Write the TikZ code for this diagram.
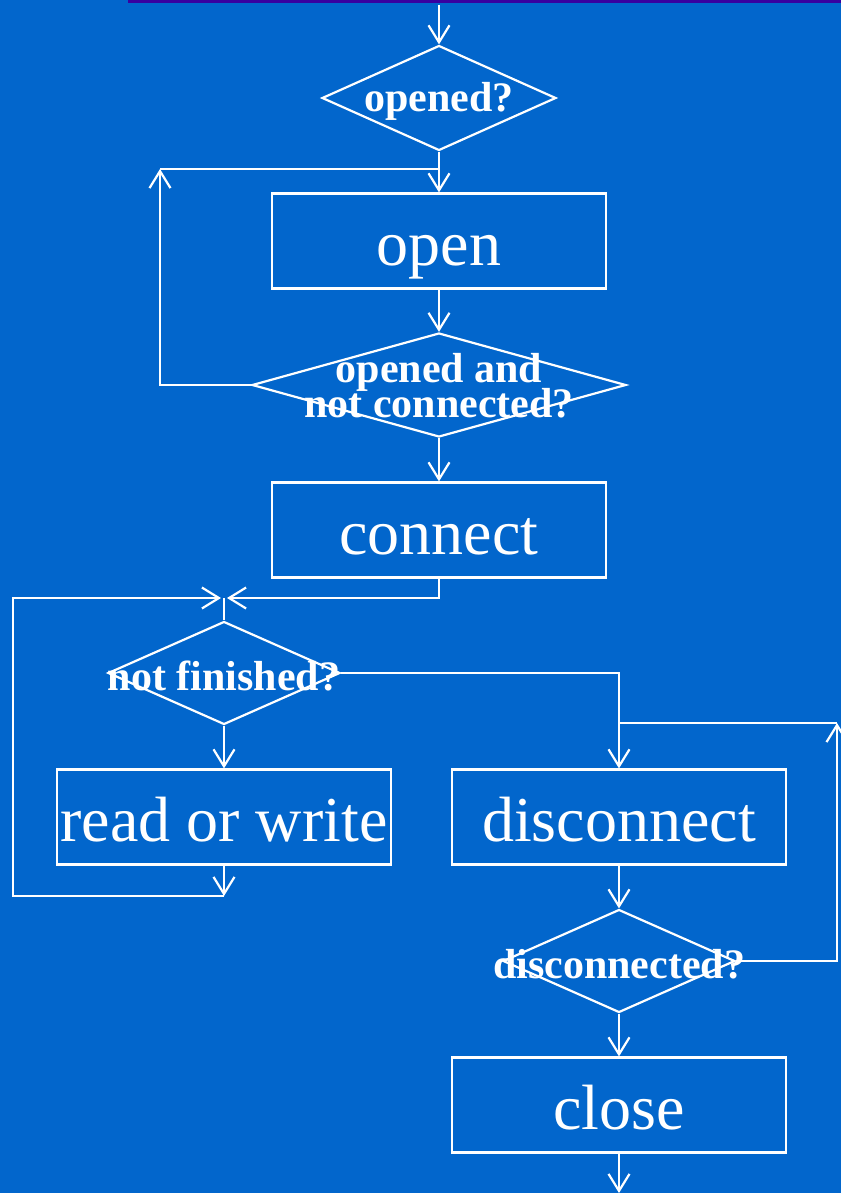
\documentclass[tikz,border=0pt]{standalone}
\usepackage{fontspec}
\setmainfont{Liberation Serif}
\definecolor{myBackBlue}{RGB}{2,102,204}
\definecolor{myBarPurple}{RGB}{56,0,160}
\usetikzlibrary{arrows.meta, shapes.geometric, calc}

\begin{document}
\begin{tikzpicture}[x=1pt, y=-1pt,
  >={Straight Barb[length=17pt, width=21pt]},
  proc/.style={draw=white, line width=2.2pt, rectangle, minimum width=334pt,
               minimum height=95pt, inner sep=0pt, text=white,
               text height=49pt, text depth=0pt,
               font=\fontsize{64}{70}\selectfont},
  test/.style={draw=white, line width=2.2pt, diamond, inner sep=0pt},
  testtext/.style={text=white, align=center, inner sep=0pt, yshift=-3pt,
                   font=\fontsize{42}{36}\selectfont\bfseries},
  edge/.style={->, line width=2.2pt, white},
  link/.style={line width=2.2pt, white}]
  \useasboundingbox (0,0) rectangle (841,1193);
  \fill[myBackBlue] (0,0) rectangle (841,1193);
  \fill[myBarPurple] (128,0) rectangle (841,3);
  % main column
  \coordinate (top) at (439,5);
  \node[test, minimum width=234pt, minimum height=105pt,
        label={[testtext]center:opened?}] (q1) at (439,98) {};
  \node[proc] (open) at (439,241) {open};
  \node[test, minimum width=374pt, minimum height=104pt,
        label={[testtext, yshift=2pt]center:opened and\\[-4pt]not connected?}] (q2) at (439,385) {};
  \node[proc] (conn) at (439,530) {connect};
  \coordinate (j1) at (224,598);
  \node[test, minimum width=232pt, minimum height=103pt,
        label={[testtext]center:not finished?}] (q3) at (224,673) {};
  \node[proc] (rw) at (224,817) {read or write};
  \coordinate (j2) at (224,896);
  \node[proc] (disc) at (619,817) {disconnect};
  \node[test, minimum width=232pt, minimum height=103pt,
        label={[testtext]center:disconnected?}] (q4) at (619,961) {};
  \node[proc] (close) at (619,1105) {close};
  \coordinate (bot) at (619,1193);
  % loop corners
  \coordinate (c0) at (160,169);
  \coordinate (c1) at (13,598);
  \coordinate (c2) at (837,723);

  \draw[edge] (top) -- (q1.north);
  \draw[edge] (q1.south) -- (open.north);
  \draw[edge] (open.south) -- (q2.north);
  \draw[edge] (q2.west) -| (c0);
  \draw[link] (c0) -- (q1.south |- c0);
  \draw[edge] (q2.south) -- (conn.north);
  \draw[edge, shorten >=3pt] (conn.south) |- (j1);
  \draw[link] (j1) -- (q3.north);
  \draw[edge] (q3.south) -- (rw.north);
  \draw[edge] (rw.south) -- (j2);
  \draw[edge, shorten >=3pt] (j2) -| (c1) -- (j1);
  \draw[edge] (q3.east) -| (disc.north);
  \draw[edge] (disc.south) -- (q4.north);
  \draw[edge] (q4.east) -| (c2);
  \draw[link] (c2) -- (disc.north |- c2);
  \draw[edge] (q4.south) -- (close.north);
  \draw[edge] (close.south) -- (bot);
\end{tikzpicture}
\end{document}
